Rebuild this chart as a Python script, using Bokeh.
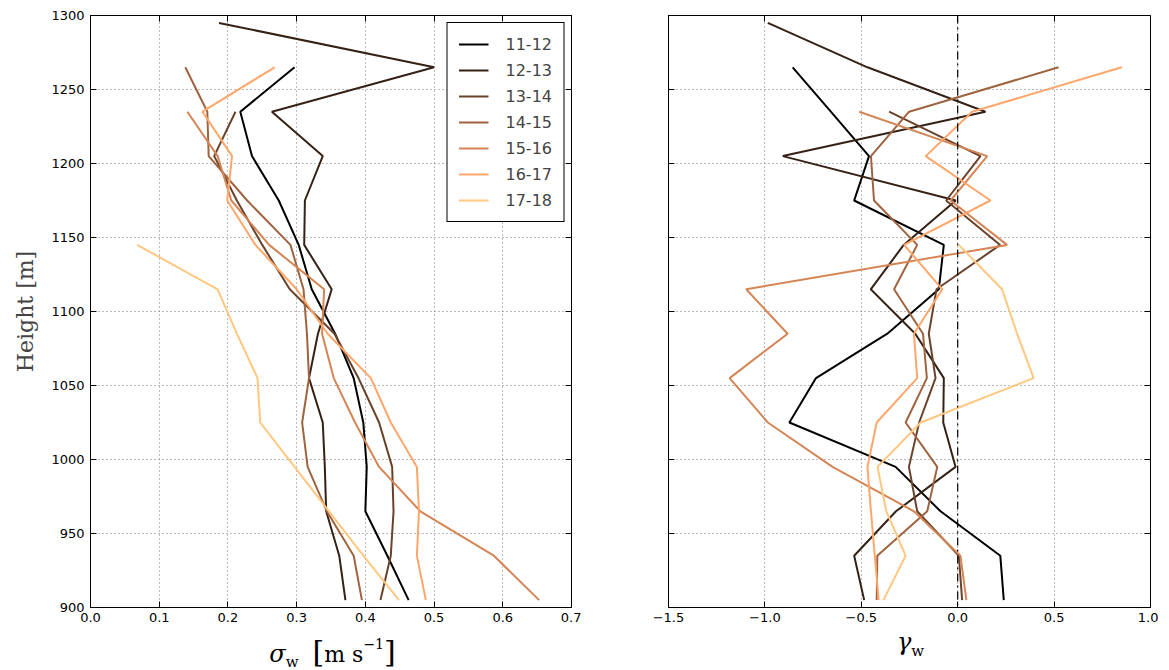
from bokeh.plotting import figure
from bokeh.models import FixedTicker, LinearAxis, Span, Range1d, Div
from bokeh.layouts import row, column
from bokeh.embed import file_html
from bokeh.resources import INLINE

# ---------------- data ----------------
heights = [1295, 1265, 1235, 1205, 1175, 1145, 1115, 1085, 1055, 1025, 995, 965, 935, 905]
periods = ["11-12", "12-13", "13-14", "14-15", "15-16", "16-17", "17-18"]
colors = ["#000000", "#352115", "#6a422a", "#9f643f", "#d48555", "#ffa66a", "#ffc77f"]

sigma_11_12 = [None, 0.297, 0.218, 0.235, 0.274, 0.303, 0.322, 0.356, 0.383, 0.397, 0.402, 0.400, 0.432, 0.463]
sigma_12_13 = [0.187, 0.500, 0.264, 0.338, 0.312, 0.311, 0.351, 0.331, 0.318, 0.338, 0.341, 0.343, 0.362, 0.371]
sigma_13_14 = [None, None, 0.211, 0.180, 0.213, 0.250, 0.290, 0.355, 0.390, 0.420, 0.439, 0.441, 0.437, 0.422]
sigma_14_15 = [None, 0.138, 0.170, 0.172, 0.228, 0.291, 0.310, 0.315, 0.318, 0.308, 0.316, 0.344, 0.383, 0.395]
sigma_15_16 = [None, None, 0.141, 0.185, 0.205, 0.260, 0.340, 0.337, 0.354, 0.385, 0.420, 0.480, 0.587, 0.653]
sigma_16_17 = [None, 0.268, 0.163, 0.206, 0.199, 0.240, 0.300, 0.345, 0.408, 0.437, 0.475, 0.478, 0.475, 0.488]
sigma_17_18 = [None, None, None, None, None, 0.068, 0.185, 0.213, 0.243, 0.247, 0.297, 0.347, 0.397, 0.449]

gamma_11_12 = [None, -0.856, -0.658, -0.460, -0.537, -0.072, -0.098, -0.365, -0.735, -0.873, -0.322, -0.089, 0.221, 0.239]
gamma_12_13 = [-0.985, -0.468, 0.144, -0.907, -0.010, -0.280, -0.451, -0.220, -0.072, -0.075, -0.011, -0.320, -0.537, -0.485]
gamma_13_14 = [None, None, -0.356, 0.118, -0.060, 0.220, -0.110, -0.150, -0.115, -0.200, -0.253, -0.210, 0.006, 0.023]
gamma_14_15 = [None, 0.523, -0.252, -0.450, -0.434, -0.210, -0.330, -0.180, -0.160, -0.270, -0.106, -0.158, -0.417, -0.420]
gamma_15_16 = [None, None, -0.511, 0.153, -0.037, 0.256, -1.097, -0.882, -1.183, -0.985, -0.649, -0.227, 0.014, 0.045]
gamma_16_17 = [None, 0.851, 0.075, -0.166, 0.170, -0.278, -0.080, -0.227, -0.210, -0.420, -0.468, -0.450, -0.430, -0.410]
gamma_17_18 = [None, None, None, None, None, 0.006, 0.230, 0.308, 0.394, -0.192, -0.416, -0.370, -0.270, -0.385]

sigma_series = [sigma_11_12, sigma_12_13, sigma_13_14, sigma_14_15, sigma_15_16, sigma_16_17, sigma_17_18]
gamma_series = [gamma_11_12, gamma_12_13, gamma_13_14, gamma_14_15, gamma_15_16, gamma_16_17, gamma_17_18]

y_ticks = [900, 950, 1000, 1050, 1100, 1150, 1200, 1250, 1300]
y_tick_labels = ["900", "950", "1000", "1050", "1100", "1150", "1200", "1250", "1300"]
sigma_ticks = [0.0, 0.1, 0.2, 0.3, 0.4, 0.5, 0.6, 0.7]
sigma_tick_labels = ["0.0", "0.1", "0.2", "0.3", "0.4", "0.5", "0.6", "0.7"]
gamma_ticks = [-1.5, -1.0, -0.5, 0.0, 0.5, 1.0]
gamma_tick_labels = ["\u22121.5", "\u22121.0", "\u22120.5", "0.0", "0.5", "1.0"]

TICK_FONT = "DejaVu Sans"
SERIF = "DejaVu Serif"


def style_axis(ax, ticks, labels):
    ax.ticker = FixedTicker(ticks=ticks)
    ax.major_label_overrides = {float(t): l for t, l in zip(ticks, labels)}
    ax.major_tick_in = 6
    ax.major_tick_out = 0
    ax.minor_tick_in = 0
    ax.minor_tick_out = 0
    ax.axis_line_color = "black"
    ax.major_tick_line_color = "black"
    ax.major_label_text_font = TICK_FONT
    ax.major_label_text_font_size = "13px"
    ax.major_label_text_color = "black"


def tick_only_axis(ticks):
    ax = LinearAxis()
    style_axis(ax, ticks, ["" for _ in ticks])
    ax.axis_line_color = None
    ax.major_label_standoff = 0
    return ax


def make_fig(frame_w, bl, br, xr, xticks, xlabels, ylabels_visible):
    p = figure(frame_width=frame_w, frame_height=592,
               min_border_left=bl, min_border_right=br, min_border_top=15, min_border_bottom=28,
               x_range=Range1d(*xr), y_range=Range1d(900, 1300),
               output_backend="svg", toolbar_location=None, tools="")
    p.outline_line_color = "black"
    p.outline_line_width = 1
    p.outline_line_alpha = 1
    p.background_fill_color = "white"
    p.border_fill_color = "white"

    style_axis(p.xaxis[0], xticks, xlabels)
    if ylabels_visible:
        style_axis(p.yaxis[0], y_ticks, y_tick_labels)
        p.yaxis[0].major_label_standoff = 6
    else:
        style_axis(p.yaxis[0], y_ticks, ["" for _ in y_ticks])
        p.yaxis[0].major_label_standoff = 0
    p.xaxis[0].major_label_standoff = 5
    p.xgrid.ticker = FixedTicker(ticks=xticks)
    p.ygrid.ticker = FixedTicker(ticks=y_ticks)

    p.add_layout(tick_only_axis(xticks), "above")
    p.add_layout(tick_only_axis(y_ticks), "right")

    p.grid.grid_line_color = "#777777"
    p.grid.grid_line_dash = "1 3"
    p.grid.grid_line_width = 1
    return p


# ---------------- left panel ----------------
p1 = make_fig(481, 90, 10, (0.0, 0.7), sigma_ticks, sigma_tick_labels, True)
for name, col, vals in zip(periods, colors, sigma_series):
    xs = [v for v in vals if v is not None]
    ys = [h for h, v in zip(heights, vals) if v is not None]
    p1.line(xs, ys, line_color=col, line_width=2, legend_label=name)

left_axis = p1.yaxis[0]
left_axis.axis_label = "Height [m]"
left_axis.axis_label_text_font = SERIF
left_axis.axis_label_text_font_size = "22px"
left_axis.axis_label_text_font_style = "normal"
left_axis.axis_label_standoff = 10

lg = p1.legend[0]
lg.location = "top_right"
lg.label_text_font = TICK_FONT
lg.label_text_font_size = "16px"
lg.border_line_color = "black"
lg.border_line_width = 1
lg.border_line_alpha = 1
lg.background_fill_alpha = 1
lg.glyph_width = 30
lg.glyph_height = 20
lg.label_height = 20
lg.spacing = 6
lg.padding = 11
lg.margin = 7
lg.label_standoff = 17

# ---------------- right panel ----------------
p2 = make_fig(482, 87, 8, (-1.5, 1.0), gamma_ticks, gamma_tick_labels, False)
p2.add_layout(Span(location=0, dimension="height", line_color="black",
                   line_width=1.2, line_dash="8 4 2 4"))
for name, col, vals in zip(periods, colors, gamma_series):
    xs = [v for v in vals if v is not None]
    ys = [h for h, v in zip(heights, vals) if v is not None]
    p2.line(xs, ys, line_color=col, line_width=2)

# ---------------- x-axis labels (HTML, with sub/superscripts) ----------------
base = ("font-family:'DejaVu Serif'; font-size:22px; line-height:30px; box-sizing:border-box; "
        "white-space:nowrap; text-align:center; color:black;")
sigma_html = (
    f'<div style="{base} width:581px; padding-left:84px; position:relative; top:2px;">'
    '<i style="font-size:24px">\u03c3</i>'
    '<span style="font-size:15px; position:relative; top:5px">w</span>'
    '&nbsp;&nbsp;<span style="font-size:30px">[</span>m&nbsp;s'
    '<span style="font-size:14px; position:relative; top:-13px">\u22121</span>'
    '<span style="font-size:30px">]</span></div>'
)
gamma_html = (
    f'<div style="{base} width:577px; padding-left:82px; position:relative; top:-8px;">'
    '<i style="font-size:24px">\u03b3</i>'
    '<span style="font-size:15px; position:relative; top:6px">w</span></div>'
)
d1 = Div(text=sigma_html, width=581, height=35, margin=0)
d2 = Div(text=gamma_html, width=577, height=35, margin=0)

layout = column(row(p1, p2), row(d1, d2))
open("out.html", "w").write(file_html(layout, INLINE))
